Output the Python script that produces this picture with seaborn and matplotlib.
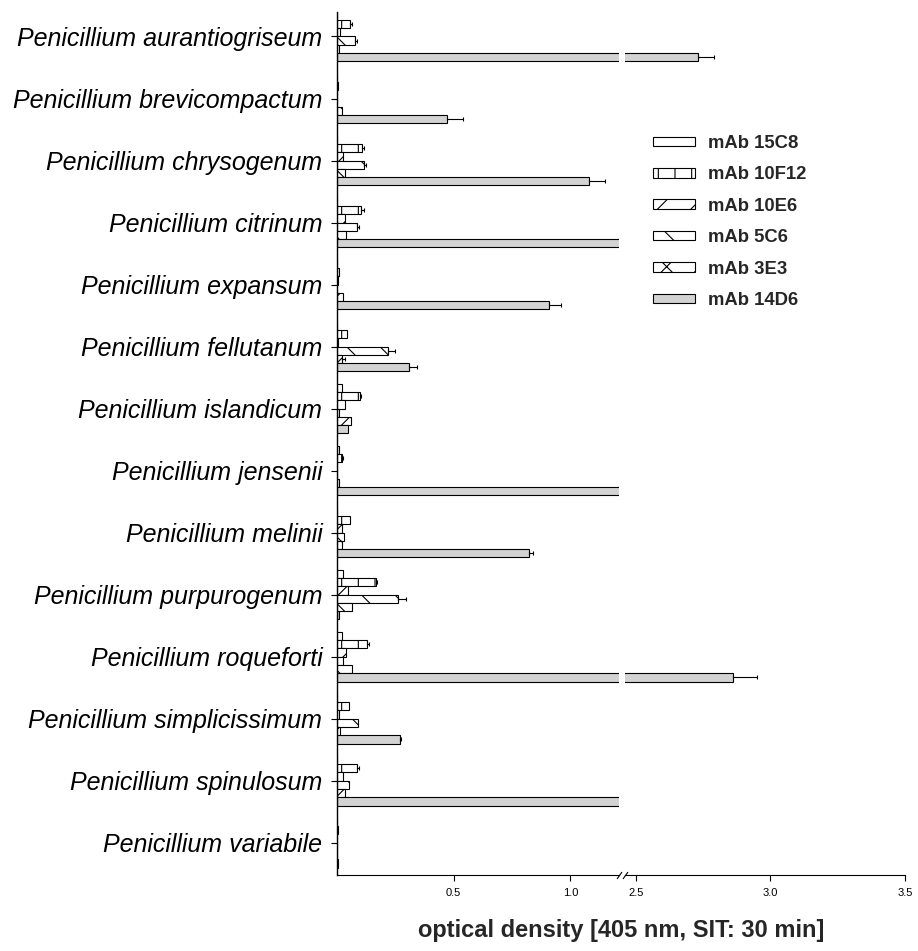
import numpy as np
import pandas as pd
import seaborn as sns
from matplotlib import pyplot as plt

species = [
    "Penicillium aurantiogriseum",
    "Penicillium brevicompactum",
    "Penicillium chrysogenum",
    "Penicillium citrinum",
    "Penicillium expansum",
    "Penicillium fellutanum",
    "Penicillium islandicum",
    "Penicillium jensenii",
    "Penicillium melinii",
    "Penicillium purpurogenum",
    "Penicillium roqueforti",
    "Penicillium simplicissimum",
    "Penicillium spinulosum",
    "Penicillium variabile",
]
antibodies = ["mAb 15C8", "mAb 10F12", "mAb 10E6", "mAb 5C6", "mAb 3E3", "mAb 14D6"]

# optical density per antibody (one value per species)
od_15c8 = [0.0, 0.0, 0.0, 0.0, 0.0, 0.0, 0.02, 0.008, 0.0, 0.027, 0.023, 0.0, 0.0, 0.0]
od_10f12 = [0.055, 0.005, 0.105, 0.103, 0.01, 0.042, 0.098, 0.02, 0.056, 0.167, 0.127, 0.053, 0.087, 0.006]
od_10e6 = [0.015, 0.0, 0.026, 0.035, 0.005, 0.003, 0.034, 0.0, 0.023, 0.046, 0.037, 0.008, 0.026, 0.0]
od_5c6 = [0.075, 0.0, 0.115, 0.084, 0.0, 0.22, 0.01, 0.0, 0.031, 0.263, 0.027, 0.091, 0.05, 0.0]
od_3e3 = [0.01, 0.02, 0.034, 0.04, 0.025, 0.023, 0.062, 0.01, 0.02, 0.063, 0.063, 0.013, 0.034, 0.0]
od_14d6 = [2.73, 0.47, 1.08, 2.0, 0.906, 0.307, 0.046, 2.0, 0.824, 0.01, 2.86, 0.27, 2.0, 0.005]

# standard deviations (upper side only)
err_15c8 = [0.0] * 14
err_10f12 = [0.01, 0.0, 0.01, 0.011, 0.0, 0.0, 0.004, 0.005, 0.0, 0.005, 0.011, 0.0, 0.008, 0.0]
err_10e6 = [0.0] * 14
err_5c6 = [0.01, 0.0, 0.01, 0.01, 0.0, 0.03, 0.0, 0.0, 0.0, 0.033, 0.0, 0.0, 0.0, 0.0]
err_3e3 = [0.0, 0.0, 0.0, 0.0, 0.0, 0.01, 0.0, 0.0, 0.0, 0.0, 0.0, 0.0, 0.0, 0.0]
err_14d6 = [0.06, 0.07, 0.07, 0.0, 0.053, 0.037, 0.0, 0.0, 0.015, 0.0, 0.09, 0.005, 0.0, 0.0]

lo_ticks = [0.5, 1.0]
lo_labels = ["0.5", "1.0"]
hi_ticks = [2.5, 3.0, 3.5]
hi_labels = ["2.5", "3.0", "3.5"]

values = [od_15c8, od_10f12, od_10e6, od_5c6, od_3e3, od_14d6]
errors = [err_15c8, err_10f12, err_10e6, err_5c6, err_3e3, err_14d6]

df = pd.DataFrame(
    {
        "species": np.tile(species, len(antibodies)),
        "antibody": np.repeat(antibodies, len(species)),
        "od": np.concatenate(values),
        "err": np.concatenate(errors),
    }
)

sns.set_theme(style="ticks")
plt.rcParams["font.family"] = ["Liberation Sans", "DejaVu Sans"]
plt.rcParams["axes.edgecolor"] = "black"
plt.rcParams["xtick.color"] = "black"
plt.rcParams["ytick.color"] = "black"
plt.rcParams["hatch.linewidth"] = 0.8
plt.rcParams["hatch.color"] = "black"

palette = dict(zip(antibodies, ["white"] * 5 + ["#d3d3d3"]))
hatches = ["", "|", "/", "\\", "x", ""]

fig = plt.figure(figsize=(9.18, 9.51), dpi=100)
ax_lo = fig.add_axes([0.3671, 0.0799, 0.3072, 0.9075])
ax_hi = fig.add_axes([0.6808, 0.0799, 0.3050, 0.9075])

for ax in (ax_lo, ax_hi):
    sns.barplot(
        data=df, x="od", y="species", hue="antibody", hue_order=antibodies,
        order=species, palette=palette, orient="h", width=0.8, gap=0,
        errorbar=None, saturation=1, edgecolor="black", linewidth=0.8,
        legend=False, ax=ax,
    )
    for container, hatch, name in zip(ax.containers, hatches, antibodies):
        sub = df[df["antibody"] == name]
        ys, xs, es = [], [], []
        for patch, od, err in zip(container.patches, sub["od"], sub["err"]):
            patch.set_hatch(hatch)
            if err > 0:
                ys.append(patch.get_y() + patch.get_height() / 2)
                xs.append(od)
                es.append(err)
        if es:
            ax.errorbar(
                xs, ys, xerr=[np.zeros(len(es)), es], fmt="none",
                ecolor="black", elinewidth=0.8, capsize=1.5, capthick=0.8,
            )
    ax.set_ylim(13.52, -0.395)
    ax.set_xlabel("")
    ax.set_ylabel("")
    for side in ("top", "right"):
        ax.spines[side].set_visible(False)
    ax.spines["left"].set_linewidth(1.0)
    ax.spines["bottom"].set_linewidth(0.8)
    ax.tick_params(axis="x", length=4.5, width=0.8, pad=5, labelsize=8)

ax_lo.set_xlim(0, 1.208)
ax_hi.set_xlim(2.459, 3.5)
ax_lo.set_xticks(lo_ticks, lo_labels)
ax_hi.set_xticks(hi_ticks, hi_labels)

ax_lo.set_yticks(range(len(species)), species, fontstyle="italic", fontsize=18)
ax_lo.tick_params(axis="y", length=4.5, width=0.8, pad=6)
ax_hi.spines["left"].set_visible(False)
ax_hi.tick_params(axis="y", left=False, labelleft=False)

# break marks on the x axis
kw = dict(marker=[(-1, -1.4), (1, 1.4)], markersize=5, linestyle="none",
          color="black", mec="black", mew=0.8, clip_on=False)
ax_lo.plot([1], [0], transform=ax_lo.transAxes, **kw)
ax_hi.plot([0], [0], transform=ax_hi.transAxes, **kw)

fig.text(0.6765, 0.022, "optical density [405 nm, SIT: 30 min]",
         ha="center", va="center", fontsize=17, fontweight="bold")

fig.legend(
    ax_lo.containers, antibodies, loc="upper left",
    bbox_to_anchor=(653 / 918, 1 - 135 / 951), frameon=False,
    borderpad=0, borderaxespad=0, handlelength=2.3, handleheight=0.42,
    handletextpad=0.7, labelspacing=0.78,
    prop={"weight": "bold", "size": 13.3},
)

fig.savefig("out.png", dpi=100)
